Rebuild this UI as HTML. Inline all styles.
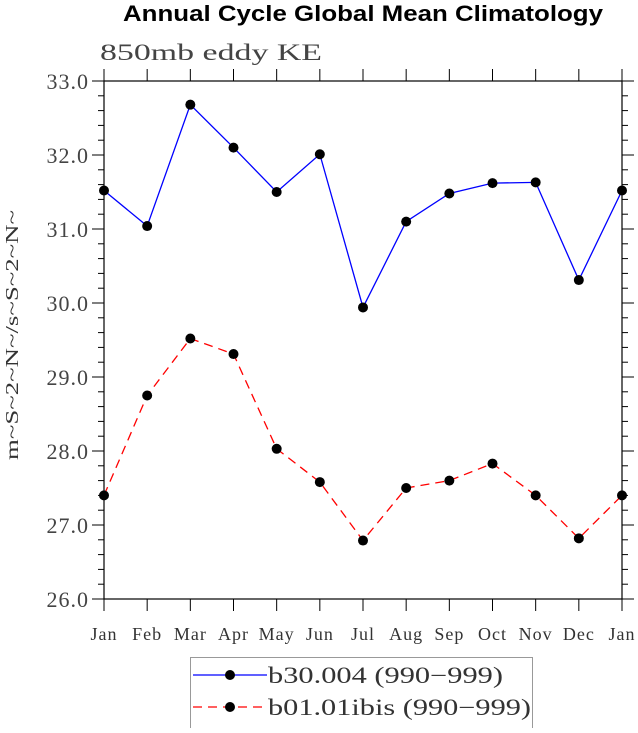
<!DOCTYPE html>
<html><head><meta charset="utf-8"><style>
body{margin:0;background:#fff;width:638px;height:728px;overflow:hidden}
text{font-family:"Liberation Serif",serif}
</style></head><body>
<svg width="638" height="728" id="svg">
<text x="123" y="21" textLength="480" lengthAdjust="spacingAndGlyphs" font-size="22" font-weight="bold" style="font-family:'Liberation Sans',sans-serif">Annual Cycle Global Mean Climatology</text>
<text x="100" y="60" font-size="23" fill="#444" textLength="222" lengthAdjust="spacingAndGlyphs">850mb eddy KE</text>
<text transform="translate(18,335) rotate(-90)" text-anchor="middle" font-size="18" fill="#333" textLength="250" lengthAdjust="spacingAndGlyphs">m~S~2~N~/s~S~2~N~</text>
<rect x="104" y="81" width="518" height="518" fill="none" stroke="#000" stroke-width="1.2"/>
<g id="axes"></g><g id="series"></g>
<g>
<rect x="190.5" y="657.5" width="342" height="72" fill="#fff" stroke="#999"/>
<g><line x1="193" y1="675" x2="267" y2="675" stroke="#00f" stroke-width="1.3"/><circle cx="230" cy="675" r="5" fill="#000"/><text x="268" y="683" font-size="23" fill="#333" textLength="235" lengthAdjust="spacingAndGlyphs">b30.004 (990−999)</text></g>
<g><line x1="193" y1="707" x2="267" y2="707" stroke="#f00" stroke-width="1.3" stroke-dasharray="9,6"/><circle cx="230" cy="707" r="5" fill="#000"/><text x="268" y="715" font-size="23" fill="#333" textLength="263" lengthAdjust="spacingAndGlyphs">b01.01ibis (990−999)</text></g>
</g>
</svg>
<script>
const months=["Jan","Feb","Mar","Apr","May","Jun","Jul","Aug","Sep","Oct","Nov","Dec","Jan"];
const yTicks=["26.0","27.0","28.0","29.0","30.0","31.0","32.0","33.0"];
const seriesB30=[31.52,31.04,32.68,32.1,31.5,32.01,29.94,31.1,31.48,31.62,31.63,30.31,31.52];
const seriesB01=[27.4,28.75,29.52,29.31,28.03,27.58,26.79,27.5,27.6,27.83,27.4,26.82,27.4];
const NS="http://www.w3.org/2000/svg";
const X0=104,X1=622,Y0=599,Y1=81,ymin=26,ymax=33;
const xs=i=>X0+i*(X1-X0)/(months.length-1);
const ys=v=>Y0-(v-ymin)/(ymax-ymin)*(Y0-Y1);
function mk(t,a,p){const e=document.createElementNS(NS,t);for(const k in a)e.setAttribute(k,a[k]);p.appendChild(e);return e;}
const ax=document.getElementById('axes');
months.forEach((m,i)=>{const x=xs(i);
 const t1=mk('line',{x1:x,y1:Y0,x2:x,y2:Y0+12,stroke:'#000'},ax);
 
 
 const t2=mk('line',{x1:x,y1:Y1,x2:x,y2:Y1-12,stroke:'#000'},ax);
 
 
 const l=mk('text',{x:x,y:640,'text-anchor':'middle','font-size':'18',fill:'#333','letter-spacing':'1'},ax);l.textContent=m;
 
 
});
for(let k=0;k<=35;k++){const v=ymin+k*0.2,y=ys(v),major=k%5===0,len=major?12:6;
 const a=mk('line',{x1:X0-len,y1:y,x2:X0,y2:y,stroke:'#000'},ax);
 
 
 const b=mk('line',{x1:X1,y1:y,x2:X1+len,y2:y,stroke:'#000'},ax);
 
 
}
yTicks.forEach((s,i)=>{const l=mk('text',{x:89,y:ys(ymin+i)+8,'text-anchor':'end','font-size':'22',fill:'#444','letter-spacing':'1'},ax);l.textContent=s;
 
 
});
const sg=document.getElementById('series');
function draw(vals,color,dash,name){
 const p=mk('polyline',{points:vals.map((v,i)=>xs(i)+','+ys(v)).join(' '),fill:'none',stroke:color,'stroke-width':'1.3','stroke-dasharray':dash},sg);
 
 
 vals.forEach((v,i)=>{const c=mk('circle',{cx:xs(i),cy:ys(v),r:5,fill:'#000'},sg);
  
  });
}
draw(seriesB30,'#00f','none','b30');
draw(seriesB01,'#f00','9,6','b01');
</script>
</body></html>
